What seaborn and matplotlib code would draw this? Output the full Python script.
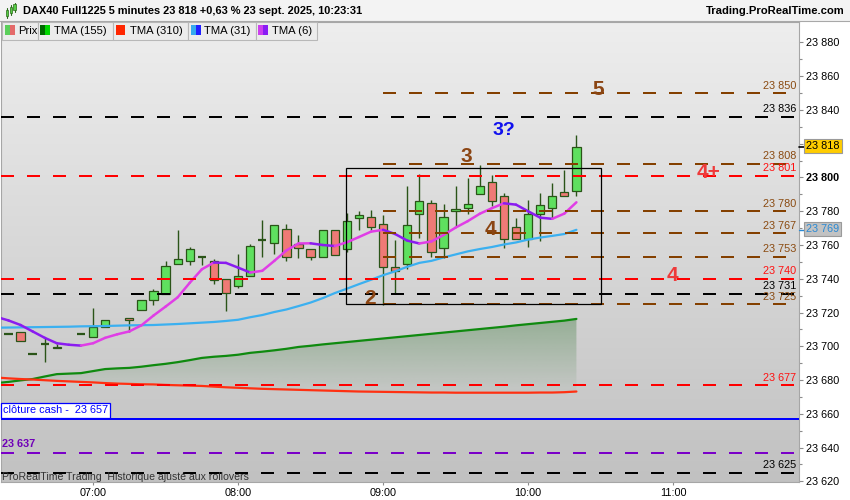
import numpy as np
import pandas as pd
import matplotlib
matplotlib.use("Agg")
import matplotlib.pyplot as plt
import seaborn as sns
from matplotlib.patches import Rectangle, PathPatch
from matplotlib.path import Path
from matplotlib.collections import LineCollection
from matplotlib.lines import Line2D
import matplotlib.transforms as mtransforms

# ---------------- data ----------------
times = pd.date_range("2025-09-23 06:20", "2025-09-23 10:20", freq="5min")
nan = np.nan
opens = [nan, 23707.0, 23708.5, 23695.3, 23701.4, 23699.8, nan, 23707.0, 23705.7, 23711.4,
         nan, 23716.9, 23721.6, 23727.5, 23731.0, 23748.8, 23750.4, 23753.1, 23750.4, 23739.8,
         23735.5, 23741.6, 23763.1, 23761.4, 23769.2, 23760.4, 23757.5, 23753.1, 23768.6, 23757.5,
         23776.1, 23776.5, 23772.2, 23746.9, 23748.6, 23778.6, 23785.1, 23758.4, 23780.4, 23781.9,
         23790.4, 23797.5, 23789.2, 23770.4, 23763.7, 23778.6, 23782.2, 23791.6, 23791.9]
highs = [nan, 23707.0, 23708.5, 23695.3, 23705.3, 23701.2, nan, 23707.0, 23722.8, 23715.7,
         nan, 23716.9, 23727.5, 23734.1, 23750.4, 23768.8, 23758.6, 23753.1, 23751.6, 23739.8,
         23754.7, 23760.6, 23774.7, 23771.6, 23772.2, 23765.9, 23757.5, 23768.6, 23768.6, 23778.8,
         23780.4, 23780.6, 23777.6, 23762.9, 23794.7, 23802.2, 23786.5, 23784.5, 23794.7, 23799.4,
         23807.6, 23801.2, 23790.6, 23775.9, 23786.5, 23790.6, 23796.5, 23804.5, 23825.3]
lows = [nan, 23707.0, 23703.0, 23695.3, 23690.8, 23698.7, nan, 23707.0, 23705.7, 23711.4,
        nan, 23708.4, 23721.6, 23724.5, 23731.0, 23748.8, 23748.4, 23748.4, 23736.9, 23720.8,
        23734.5, 23741.6, 23753.1, 23754.5, 23750.4, 23752.5, 23751.4, 23752.8, 23754.1, 23756.1,
        23769.0, 23769.0, 23724.7, 23731.0, 23745.7, 23764.3, 23753.1, 23752.5, 23771.2, 23778.6,
        23790.4, 23782.9, 23758.4, 23763.4, 23759.0, 23762.4, 23776.1, 23789.0, 23789.2]
closes = [nan, 23707.0, 23703.0, 23695.3, 23701.4, 23698.7, nan, 23707.0, 23711.4, 23715.7,
          nan, 23715.7, 23727.5, 23732.9, 23747.6, 23751.6, 23757.5, 23753.1, 23739.4, 23731.6,
          23741.4, 23759.2, 23763.1, 23771.6, 23753.1, 23758.4, 23753.1, 23768.6, 23754.1, 23774.5,
          23777.5, 23770.4, 23747.2, 23744.5, 23771.6, 23786.3, 23755.9, 23776.5, 23781.6, 23784.5,
          23795.1, 23786.1, 23763.7, 23763.4, 23778.6, 23783.4, 23789.2, 23789.0, 23818.0]

tma155 = [23678.2, 23678.9, 23679.8, 23680.6, 23682.1, 23683.5, 23683.8, 23684.1, 23685.3, 23686.5,
          23686.9, 23687.2, 23687.9, 23688.8, 23689.6, 23690.6, 23691.8, 23693.1, 23693.8, 23694.3,
          23695.0, 23696.1, 23696.8, 23697.6, 23698.5, 23699.6, 23700.3, 23701.1, 23701.8, 23702.5,
          23703.2, 23703.9, 23704.6, 23705.3, 23706.0, 23706.7, 23707.4, 23708.1, 23708.8, 23709.5,
          23710.2, 23710.9, 23711.6, 23712.4, 23713.1, 23713.8, 23714.5, 23715.2, 23716.2]
tma310 = [23681.5, 23681.0, 23680.6, 23680.3, 23679.9, 23679.5, 23679.2, 23678.9, 23678.6, 23678.2,
          23677.9, 23677.7, 23677.5, 23677.4, 23677.1, 23676.9, 23676.7, 23676.5, 23676.1, 23675.7,
          23675.4, 23675.1, 23674.8, 23674.6, 23674.4, 23674.2, 23674.0, 23673.8, 23673.6, 23673.4,
          23673.2, 23673.1, 23673.0, 23672.9, 23672.8, 23672.7, 23672.6, 23672.6, 23672.5, 23672.5,
          23672.5, 23672.5, 23672.5, 23672.5, 23672.5, 23672.6, 23672.6, 23672.8, 23673.2]
tma31 = [23711.0, 23711.1, 23711.2, 23711.3, 23711.4, 23711.5, 23711.6, 23711.8, 23711.9, 23712.0,
         23712.2, 23712.4, 23712.5, 23712.6, 23712.9, 23713.2, 23713.6, 23714.0, 23714.4, 23715.0,
         23715.7, 23717.2, 23718.5, 23720.3, 23721.8, 23723.8, 23725.9, 23728.5, 23731.5, 23734.1,
         23736.8, 23739.4, 23742.1, 23744.4, 23747.1, 23749.4, 23750.6, 23752.6, 23754.4, 23756.2,
         23757.6, 23758.8, 23760.3, 23761.5, 23763.2, 23764.4, 23765.4, 23766.5, 23769.0]
tma6 = [23717.4, 23715.3, 23712.6, 23708.8, 23705.0, 23701.8, 23700.9, 23700.4, 23701.8, 23705.0,
        23707.1, 23708.8, 23712.4, 23718.2, 23723.5, 23729.0, 23737.6, 23745.6, 23749.6, 23749.4,
        23746.6, 23743.7, 23744.7, 23750.6, 23756.8, 23760.9, 23761.0, 23760.0, 23759.4, 23761.6,
        23764.7, 23767.9, 23769.0, 23766.5, 23762.6, 23760.9, 23762.1, 23765.9, 23770.3, 23774.1,
        23778.5, 23781.8, 23784.7, 23783.9, 23780.0, 23776.2, 23775.5, 23778.6, 23785.3]

levels_black = [23836, 23731, 23625]
levels_red = [23801, 23740, 23677]
levels_brown = [23850, 23808, 23780, 23767, 23753, 23725]
level_cash = 23657
level_purple = 23637
brown_start = "09:00"
last_price = 23818
tma31_last = 23769
box_time = ("08:44.6", "10:30")
box_price = (23725.1, 23805.6)

xtick_labels = ["07:00", "08:00", "09:00", "10:00", "11:00"]
ytick_values = list(range(23620, 23881, 20))

wave_labels = [("2", "08:54.6", 23728.2, "#8b4513", 15),
               ("3", "09:34.6", 23812.6, "#8b4513", 15),
               ("3?", "09:49.9", 23828.0, "#1010ee", 14),
               ("4", "09:44.6", 23769.2, "#8b4513", 15),
               ("5", "10:28.9", 23852.4, "#8b4513", 15),
               ("4+", "11:14.7", 23803.0, "#ee3a3a", 15),
               ("4", "10:59.8", 23741.8, "#ee3a3a", 15)]

title = "DAX40 Full1225 5 minutes 23 818 +0,63 % 23 sept. 2025, 10:23:31"
legend_items = [("Prix", ("#5acf5a", "#e46a6a")),
                ("TMA (155)", ("#006a00", "#00d800")),
                ("TMA (310)", ("#ff2600", "#ff2600")),
                ("TMA (31)", ("#35a9ee", "#2020ff")),
                ("TMA (6)", ("#cc3fee", "#8a1cf4"))]


def to_min(s):
    hh, mm = s.split(":")
    return int(hh) * 60 + float(mm)


def fmt(v):
    return f"{int(round(v)):,}".replace(",", " ")


# ---------------- style ----------------
sns.set_theme(style="white")
plt.rcParams["font.family"] = ["Liberation Sans", "DejaVu Sans"]

W, H = 850, 500
fig = plt.figure(figsize=(W / 100, H / 100), dpi=100)
fig.patch.set_facecolor("white")
ax = fig.add_axes([1 / W, 18 / H, 798 / W, 460 / H])
XL, XR = 381.9, 712.1
YB, YT = 23619.6, 23892.1

tmin = (times.hour * 60 + times.minute).to_numpy().astype(float)

# background gradient
n = 256
top = np.array([0xee, 0xee, 0xee]) / 255
bot = np.array([0xc1, 0xc1, 0xc1]) / 255
g = np.linspace(0, 1, n)[:, None, None]
bg = top + (bot - top) * g
ax.imshow(bg, extent=[0, 1, 0, 1], transform=ax.transAxes, aspect="auto",
          origin="upper", zorder=0, interpolation="bilinear")

# cloud between TMA155 and TMA310 (gradient)
g155 = np.array(tma155)
g310 = np.array(tma310)
poly = ax.fill_between(tmin, g155, g310, where=g155 >= g310, interpolate=True,
                       facecolor="none", edgecolor="none")
cp = Path.make_compound_path(*poly.get_paths())
clip = PathPatch(cp, transform=ax.transData, facecolor="none", edgecolor="none")
ax.add_patch(clip)
rgba = np.zeros((n, 1, 4))
rgba[..., 0] = 46 / 255
rgba[..., 1] = 115 / 255
rgba[..., 2] = 46 / 255
rgba[..., 3] = np.linspace(0.36, 0.02, n)[:, None]
im = ax.imshow(rgba, extent=[tmin[0], tmin[-1], g310.min(), g155.max()], origin="upper",
               aspect="auto", zorder=1, interpolation="bilinear")
im.set_clip_path(clip)

# candles
o = np.array(opens); h = np.array(highs); l = np.array(lows); c = np.array(closes)
valid = ~np.isnan(o)
EDGE = "#2a5418"
GREEN = "#5fe05f"
RED = "#ef7a76"
wk = valid & (h != l)
ax.vlines(tmin[wk], l[wk], h[wk], color=EDGE, lw=1.0, zorder=3)
body = valid & (o != c)
up = c > o
ax.bar(tmin[body], np.abs(c - o)[body], bottom=np.minimum(o, c)[body], width=3.4,
       color=np.where(up, GREEN, RED)[body], edgecolor=EDGE, linewidth=0.9, zorder=4)
flat = valid & (o == c)
ax.hlines(o[flat], tmin[flat] - 1.75, tmin[flat] + 1.75, color=EDGE, lw=1.6, zorder=4)

# moving averages
sns.lineplot(x=tmin, y=g155, ax=ax, color="#0f8a0f", lw=1.6, zorder=5)
sns.lineplot(x=tmin, y=g310, ax=ax, color="#ff3012", lw=1.6, zorder=5)
sns.lineplot(x=tmin, y=tma31, ax=ax, color="#3bb0f0", lw=1.6, zorder=5)
t6 = np.array(tma6)
pts = np.column_stack([tmin, t6])
segs = np.stack([pts[:-1], pts[1:]], axis=1)
cols = np.where(np.diff(t6) >= 0, "#e03ee6", "#8a1cf0")
ax.add_collection(LineCollection(segs, colors=cols, linewidths=1.8, zorder=6,
                                 capstyle="round", joinstyle="round"))

# horizontal levels
DASH = (0, (6.5, 6.5))
LW = 1.44
BROWN = "#844000"
for v in levels_black:
    ax.axhline(v, color="black", lw=LW, ls=DASH, zorder=7)
for v in levels_red:
    ax.axhline(v, color="#ff0000", lw=LW, ls=DASH, zorder=7)
xb = (to_min(brown_start) - XL) / (XR - XL)
for v in levels_brown:
    ax.axhline(v, xmin=xb, xmax=1, color=BROWN, lw=LW, ls=DASH, zorder=7)
ax.axhline(level_cash, color="#0000ff", lw=1.44, zorder=7)
ax.axhline(level_purple, color="#7a00c8", lw=LW, ls=DASH, zorder=7)

# box
bt0, bt1 = to_min(box_time[0]), to_min(box_time[1])
ax.add_patch(Rectangle((bt0, box_price[0]), bt1 - bt0, box_price[1] - box_price[0],
                       fill=False, edgecolor="black", lw=0.9, zorder=8))

# wave labels
for txt, tt, pp, col, fs in wave_labels:
    ax.text(to_min(tt), pp, txt, color=col, fontsize=fs, fontweight="bold",
            ha="center", va="center", zorder=9)

ax.set_xlim(XL, XR)
ax.set_ylim(YB, YT)
ax.set_autoscale_on(False)

# axes styling
for sp in ax.spines.values():
    sp.set_color("#a6a6a6")
    sp.set_linewidth(0.8)
ax.yaxis.tick_right()
ax.set_yticks(ytick_values, labels=[fmt(v) for v in ytick_values])
ax.set_yticks([v + 10 for v in ytick_values[:-1]], minor=True)
ax.tick_params(axis="y", which="major", length=3, width=0.8, color="#8c8c8c",
               pad=2.2, labelsize=7.8, labelcolor="black", right=True, left=False)
ax.tick_params(axis="y", which="minor", length=2.2, width=0.8, color="#8c8c8c",
               right=True, left=False)
for lab in ax.get_yticklabels():
    if lab.get_text() == "23 800":
        lab.set_fontweight("bold")
ax.set_xticks([to_min(s) for s in xtick_labels], labels=xtick_labels)
ax.tick_params(axis="x", which="major", length=2.5, width=0.8, color="#8c8c8c",
               pad=1.5, labelsize=7.8, labelcolor="black", bottom=True)
ax.set_xlabel("")
ax.set_ylabel("")
ax.grid(False)

# level value labels (right, inside)
def ytr(dy):
    base = mtransforms.blended_transform_factory(fig.transFigure, ax.transData)
    return base + mtransforms.ScaledTranslation(0, dy / 100, fig.dpi_scale_trans)

lab_tr = ytr(7.5)
xr_lab = 796 / W
for v in levels_black:
    fig.text(xr_lab, v, fmt(v), transform=lab_tr, ha="right", va="center", fontsize=7.8,
             color="black", zorder=10)
for v in levels_red:
    fig.text(xr_lab, v, fmt(v), transform=lab_tr, ha="right", va="center", fontsize=7.8,
             color="#ff1010", zorder=10)
for v in levels_brown:
    fig.text(xr_lab, v, fmt(v), transform=lab_tr, ha="right", va="center", fontsize=7.8,
             color="#8a4a10", zorder=10)

# left labels
fig.text(3 / W, level_cash, "clôture cash -  " + fmt(level_cash), transform=ytr(8.5),
         ha="left", va="center", fontsize=7.8, color="#0000ff", zorder=10,
         bbox=dict(boxstyle="square,pad=0.2", fc="white", ec="#0000ff", lw=0.9))
fig.text(2 / W, level_purple, fmt(level_purple), transform=ytr(8.7), ha="left",
         va="center", fontsize=7.8, color="#7000b8", fontweight="bold", zorder=10)
fig.text(2 / W, 1 - 477 / H, "ProRealTime Trading  Historique ajusté aux rollovers",
         ha="left", va="center", fontsize=7.6, color="#333333", zorder=10)

# price tags on the axis
tag_tr = ytr(0.8)
fig.text(806 / W, last_price, fmt(last_price), transform=tag_tr, ha="left", va="center",
         fontsize=7.8, color="black", zorder=12,
         bbox=dict(boxstyle="square,pad=0.2", fc="#ffcc00", ec="#9a9a9a", lw=0.8))
fig.text(806 / W, tma31_last, fmt(tma31_last), transform=tag_tr, ha="left", va="center",
         fontsize=7.8, color="#2a8ad4", zorder=12,
         bbox=dict(boxstyle="square,pad=0.2", fc="#c2c2c2", ec="#9a9a9a", lw=0.8))
btr = mtransforms.blended_transform_factory(fig.transFigure, ax.transData)
fig.add_artist(Line2D([799 / W, 805 / W], [last_price, last_price], transform=btr,
                      color="black", lw=1.2, zorder=11))
fig.add_artist(Line2D([799 / W, 805 / W], [tma31_last, tma31_last], transform=btr,
                      color="#2a8ad4", lw=1.0, zorder=11))

# ---------------- header ----------------
def R(x0, y0, x1, y1, **kw):
    fig.add_artist(Rectangle((x0 / W, 1 - y1 / H), (x1 - x0) / W, (y1 - y0) / H,
                             transform=fig.transFigure, **kw))

R(0, 0, W, 21, facecolor="#f3f3f3", edgecolor="none", zorder=20)
fig.add_artist(Line2D([0, 1], [1 - 21 / H, 1 - 21 / H], transform=fig.transFigure,
                      color="#a8a8a8", lw=0.8, zorder=21))
# icon
for x0, y0, y1, wy0, wy1 in [(5.5, 10, 16, 8, 18), (9.5, 7, 13, 5, 15), (13.5, 4, 10, 2.5, 12)]:
    fig.add_artist(Line2D([(x0 + 1) / W] * 2, [1 - wy0 / H, 1 - wy1 / H],
                          transform=fig.transFigure, color="#2a6a18", lw=0.8, zorder=21))
    R(x0, y0, x0 + 2.2, y1, facecolor="#55cc44", edgecolor="#2a6a18", lw=0.5, zorder=22)
fig.text(23 / W, 1 - 11.5 / H, title, fontsize=7.9, fontweight="bold", ha="left",
         va="center", color="black", zorder=23)
fig.text(845 / W, 1 - 11.5 / H, "Trading.ProRealTime.com", fontsize=8.1,
         fontweight="bold", ha="right", va="center", color="black", zorder=23)

# legend row
edges = [2, 37.5, 113, 188, 255.5, 316.5]
for i, (name, (c1, c2)) in enumerate(legend_items):
    x0, x1 = edges[i], edges[i + 1]
    R(x0, 22, x1, 39.5, facecolor="#ececec", edgecolor="#b8b8b8", lw=0.8, zorder=20)
    R(x0 + 2.5, 25, x0 + 7.5, 35, facecolor=c1, edgecolor="none", zorder=21)
    R(x0 + 7.5, 25, x0 + 12.5, 35, facecolor=c2, edgecolor="none", zorder=21)
    fig.text((x0 + 16.5) / W, 1 - 30.5 / H, name, fontsize=8.1, ha="left", va="center",
             color="black", zorder=23)

fig.savefig("out.png", dpi=100, facecolor="white")
